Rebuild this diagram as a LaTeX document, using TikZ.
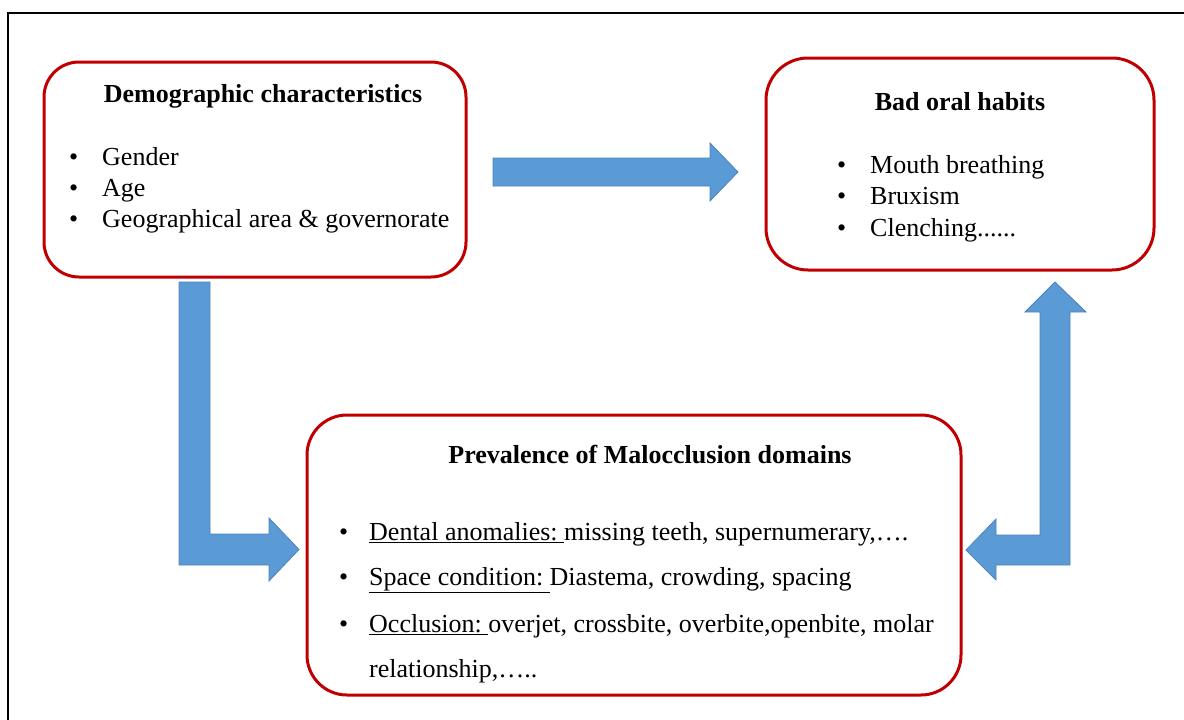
\documentclass[tikz,border=0pt]{standalone}
\usepackage{fontspec}
\setmainfont{Liberation Serif}
\definecolor{boxred}{HTML}{C00000}
\definecolor{arrowblue}{HTML}{5B9BD5}
\definecolor{arrowedge}{HTML}{4F81BD}
\begin{document}
\begin{tikzpicture}[x=1pt,y=-1pt,
  frame/.style={draw=boxred,line width=3pt,rounded corners=#1,inner sep=0pt},
  txt/.style={anchor=base west,inner sep=0pt,font=\fontsize{26}{31}\selectfont},
  ttl/.style={anchor=base,inner sep=0pt,font=\fontsize{26}{31}\selectfont\bfseries},
  blk/.style={fill=arrowblue,draw=arrowedge,line width=0.8pt,line join=miter}]
\useasboundingbox (0,0) rectangle (1184,720);
% outer frame
\draw[line width=2pt,black] (8,721) -- (8,13) -- (1185,13);
% boxes
\node[frame=35pt,minimum width=422pt,minimum height=215pt] (demo) at (255,169.5) {};
\node[frame=42pt,minimum width=388pt,minimum height=212pt] (habits) at (960,164) {};
\node[frame=40pt,minimum width=654pt,minimum height=280pt] (prev) at (634,555) {};
% block arrows
\draw[blk] (493,158) -- (710,158) -- (710,143) -- (738,172) -- (710,201) -- (710,186) -- (493,186) -- cycle;
\draw[blk] (179,282) -- (210,282) -- (210,534) -- (269,534) -- (269,518) -- (299,549.5) -- (269,581) -- (269,565) -- (179,565) -- cycle;
\draw[blk] (1055,282) -- (1086,312) -- (1070,312) -- (1070,565) -- (996,565) -- (996,580) -- (966,550) -- (996,519) -- (996,535) -- (1040,535) -- (1040,312) -- (1025,312) -- cycle;
% demographic text
\node[ttl] (demoT) at (263,102) {Demographic characteristics};
\node[txt] (db1) at (69,165) {•};
\node[txt] (dt1) at (102,165) {Gender};
\node[txt] (db2) at (69,196) {•};
\node[txt] (dt2) at (102,196) {Age};
\node[txt] (db3) at (69,227) {•};
\node[txt] (dt3) at (102,227) {Geographical area \& governorate};
% habits text
\node[ttl] (habT) at (960,110) {Bad oral habits};
\node[txt] (hb1) at (837,173) {•};
\node[txt] (ht1) at (870,173) {Mouth breathing};
\node[txt] (hb2) at (837,204) {•};
\node[txt] (ht2) at (870,204) {Bruxism};
\node[txt] (hb3) at (837,236) {•};
\node[txt] (ht3) at (870,236) {Clenching......};
% prevalence text
\node[ttl] (prevT) at (650,463) {Prevalence of Malocclusion domains};
\node[txt] (pb1) at (339,540) {•};
\node[txt] (pt1) at (369,540) {\underline{Dental anomalies:\ }missing teeth, supernumerary,….};
\node[txt] (pb2) at (339,585) {•};
\node[txt] (pt2) at (369,585) {\underline{Space condition:\ }Diastema, crowding, spacing};
\node[txt] (pb3) at (339,632) {•};
\node[txt] (pt3) at (369,632) {\underline{Occlusion:\ }overjet, crossbite, overbite,openbite, molar};
\node[txt] (pt4) at (369,677) {relationship,…..};
\end{tikzpicture}
\end{document}
